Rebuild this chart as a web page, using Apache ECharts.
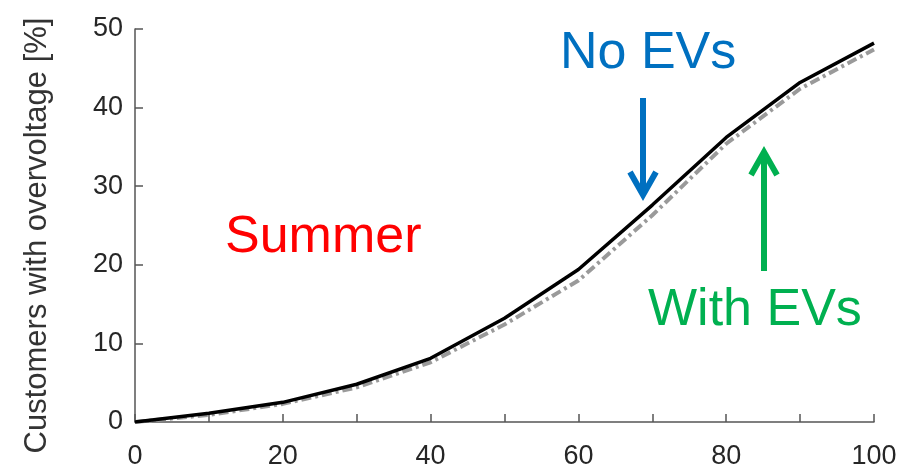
<!DOCTYPE html>
<html>
<head>
<meta charset="utf-8">
<script src="https://cdn.jsdelivr.net/npm/echarts@6/dist/echarts.min.js"></script>
<style>html,body{margin:0;padding:0;background:#fff}#c{width:904px;height:470px}</style>
</head>
<body>
<div id="c"></div>
<script>
var xValues = [0, 10, 20, 30, 40, 50, 60, 70, 80, 90, 100];
var noEVs   = [0, 1.1, 2.5, 4.8, 8.1, 13.2, 19.4, 27.6, 36.2, 43.2, 48.2];
var withEVs = [0, 0.9, 2.3, 4.4, 7.6, 12.4, 18.0, 26.3, 35.4, 42.4, 47.4];
var yTicks = [0, 10, 20, 30, 40, 50];

function pairs(ys){ return xValues.map(function(x,i){ return [x, ys[i]]; }); }

var chart = echarts.init(document.getElementById('c'), null, {renderer:'canvas'});
var font = 'Liberation Sans, Arial, sans-serif';
var axisCol = '#555';
chart.setOption({
  animation: false,
  grid: {left: 135, right: 30, top: 29, bottom: 48},
  xAxis: {
    type: 'value', min: 0, max: 100, interval: 20,
    axisLine: {lineStyle: {color: axisCol, width: 1.5}},
    axisTick: {inside: true, length: 8, lineStyle: {color: axisCol, width: 1.5}},
    minorTick: {show: true, splitNumber: 2, length: 8, lineStyle: {color: axisCol, width: 1.5}},
    splitLine: {show: false},
    axisLabel: {color: '#262626', fontSize: 27, fontFamily: font, margin: 21}
  },
  yAxis: {
    type: 'value', min: yTicks[0], max: yTicks[yTicks.length-1], interval: 10,
    name: 'Customers with overvoltage [%]', nameLocation: 'middle', nameGap: 82,
    nameTextStyle: {color: '#333', fontSize: 31, fontFamily: font, padding: [0, 20, 0, 0]},
    axisLine: {show: true, lineStyle: {color: axisCol, width: 1.5}},
    axisTick: {show: true, inside: true, length: 8, lineStyle: {color: axisCol, width: 1.5}},
    splitLine: {show: false},
    axisLabel: {color: '#262626', fontSize: 27, fontFamily: font, margin: 12}
  },
  series: [
    {name: 'With EVs', type: 'line', data: pairs(withEVs), showSymbol: false, smooth: false,
     lineStyle: {color: '#9a9a9a', width: 4, type: [10, 4, 3, 4]}, z: 2},
    {name: 'No EVs', type: 'line', data: pairs(noEVs), showSymbol: false, smooth: false,
     lineStyle: {color: '#000', width: 3.5}, z: 3}
  ],
  graphic: [
    {type: 'text', left: 560, top: 28, style: {text: 'No EVs', fill: '#0070C0', font: '52px ' + font}},
    {type: 'text', left: 225, top: 212, style: {text: 'Summer', fill: '#FF0000', font: '52px ' + font}},
    {type: 'text', left: 648, top: 285, style: {text: 'With EVs', fill: '#00B050', font: '52px ' + font}},
    {type: 'line', shape: {x1: 643, y1: 98, x2: 643, y2: 195}, style: {stroke: '#0070C0', lineWidth: 6}},
    {type: 'polyline', shape: {points: [[630, 172], [643, 195], [656, 172]]}, style: {stroke: '#0070C0', lineWidth: 6, fill: null, lineJoin: 'miter'}},
    {type: 'line', shape: {x1: 764, y1: 152, x2: 764, y2: 271}, style: {stroke: '#00B050', lineWidth: 6}},
    {type: 'polyline', shape: {points: [[751, 175], [764, 152], [777, 175]]}, style: {stroke: '#00B050', lineWidth: 6, fill: null, lineJoin: 'miter'}}
  ]
});
</script>
</body>
</html>
